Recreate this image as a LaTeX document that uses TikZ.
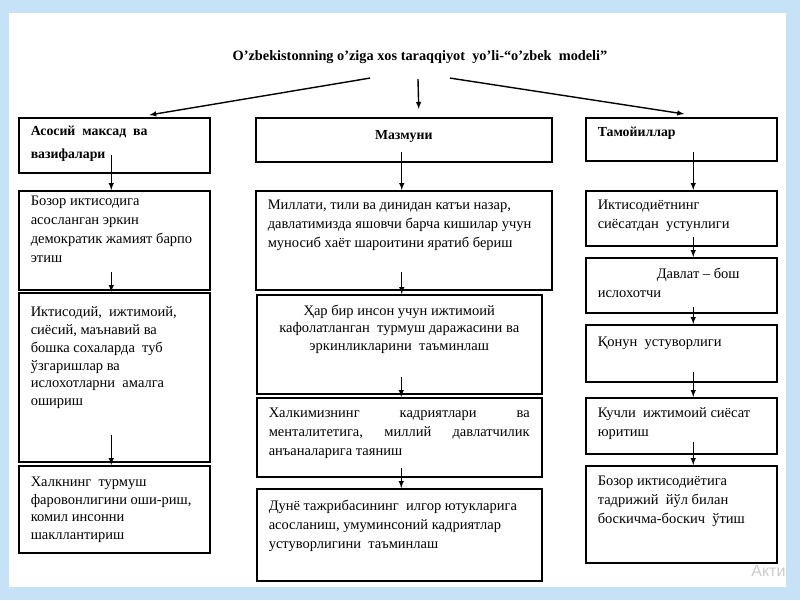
\documentclass[tikz,border=0pt]{standalone}
\usepackage{fontspec}
\setmainfont{Liberation Serif}
\setsansfont{Liberation Sans}
\usepackage{tikz}
\usetikzlibrary{calc, positioning}

\definecolor{frameblue}{HTML}{C6E2F6}
% matn katagi: kenglik, balandlik, yuqori bo'shliq, matn
\newcommand{\cell}[4]{\parbox[t][#2pt][t]{\dimexpr#1pt-24pt\relax}{\vspace*{#3pt}#4}}
\newcommand{\jsp}{\hskip 0pt plus 1fill\relax}

\begin{document}
\begin{tikzpicture}[>=latex, x=1pt, y=-1pt,
    blk/.style={draw, line width=1.5pt, anchor=north west, inner xsep=12pt, inner ysep=0pt,
        font=\fontsize{14.5}{19}\selectfont},
    tight/.style={font=\fontsize{14.5}{17.8}\selectfont},
    hd/.style={blk, font=\fontsize{13.8}{23}\selectfont\bfseries},
    link/.style={->, line width=1.4pt}]
    \useasboundingbox (0,0) rectangle (800,600);
    % Fon
    \fill[frameblue] (0,0) rectangle (800,600);
    \fill[white] (9,13) rectangle (786,587);
    \node[font=\sffamily\fontsize{16}{16}\selectfont, text=gray!40, anchor=east] (wm) at (789,571) {Акти};

    % Sarlavha
    \node[font=\fontsize{14.3}{16}\selectfont\bfseries] (title) at (420,57)
        {O’zbekistonning o’ziga xos taraqqiyot\ \ yo’li-“o’zbek\ \ modeli”};

    % Chap ustun
    \node[hd] (L1) at (18,117) {\cell{191}{55}{8}{\raggedright Асосий\ \ максад\ \ ва\\вазифалари}};
    \node[blk] (L2) at (18,190) {\cell{191}{99}{5}{\raggedright Бозор иктисодига\\асосланган эркин\\демократик жамият барпо\\этиш}};
    \node[blk, tight] (L3) at (18,292) {\cell{191}{169}{14}{\raggedright Иктисодий,\ \ ижтимоий,\\сиёсий, маънавий ва\\бошка сохаларда\ \ туб\\ўзгаришлар ва\\ислохотларни\ \ амалга\\ошириш}};
    \node[blk, tight] (L4) at (18,465) {\cell{191}{87}{11}{\raggedright Халкнинг\ \ турмуш\\фаровонлигини оши-риш,\\комил инсонни\\шакллантириш}};

    % O'rta ustun
    \node[hd] (M1) at (255,117) {\cell{296}{44}{13}{\centering Мазмуни}};
    \node[blk] (M2) at (255,190) {\cell{296}{99}{9}{\raggedright Миллати, тили ва динидан катъи назар,\\давлатимизда яшовчи барча кишилар учун\\муносиб хаёт шароитини яратиб бериш}};
    \node[blk, tight] (M3) at (256,294) {\cell{285}{99}{10}{\centering Ҳар бир инсон учун ижтимоий\\кафолатланган\ \ турмуш даражасини ва\\эркинликларини\ \ таъминлаш}};
    \node[blk] (M4) at (256,397) {\cell{285}{79}{10}{Халкимизнинг\jsp кадриятлари\jsp ва\\менталитетига,\jsp миллий\jsp давлатчилик\\анъаналарига таяниш}};
    \node[blk] (M5) at (256,488) {\cell{285}{92}{11}{\raggedright Дунё тажрибасининг\ \ илгор ютукларига\\асосланиш, умуминсоний кадриятлар\\устуворлигини\ \ таъминлаш}};

    % O'ng ustun
    \node[hd] (R1) at (585,117) {\cell{191}{43}{9}{\raggedright Тамойиллар}};
    \node[blk] (R2) at (585,190) {\cell{191}{55}{9}{\raggedright Иктисодиётнинг\\сиёсатдан\ \ устунлиги}};
    \node[blk] (R3) at (585,257) {\cell{191}{55}{10}{\raggedright\hspace*{59pt}Давлат – бош\\ислохотчи}};
    \node[blk] (R4) at (585,324) {\cell{191}{57}{12}{\raggedright Қонун\ \ устуворлиги}};
    \node[blk] (R5) at (585,397) {\cell{191}{56}{10}{\raggedright Кучли\ \ ижтимоий сиёсат\\юритиш}};
    \node[blk] (R6) at (585,465) {\cell{191}{97}{10}{\raggedright Бозор иктисодиётига\\тадрижий\ \ йўл билан\\боскичма-боскич\ \ ўтиш}};

    % Sarlavhadan strelkalar
    \draw[link] ([xshift=-50pt,yshift=-11pt]title.south) -- ([xshift=35pt,yshift=2pt]L1.north);
    \draw[link] ([xshift=-2pt,yshift=-12pt]title.south) -- ([xshift=15pt,yshift=8pt]M1.north);
    \draw[link] ([xshift=30pt,yshift=-11pt]title.south) -- ([xshift=3pt,yshift=3pt]R1.north);

    % Ustunlardagi strelkalar
    \foreach \a/\b/\dx/\dy in {L1/L2/-3/19, L2/L3/-3/19, L3/L4/-3/28,
                               M1/M2/-2/11, M2/M3/-2/19, M3/M4/2/18, M4/M5/2/10,
                               R1/R2/12/10, R2/R3/12/10, R3/R4/12/7, R4/R5/12/11, R5/R6/12/13} {
        \draw[link] ([xshift=\dx pt,yshift=\dy pt]\a.south) -- ([xshift=\dx pt]\a.south |- \b.north);
    }
\end{tikzpicture}
\end{document}
